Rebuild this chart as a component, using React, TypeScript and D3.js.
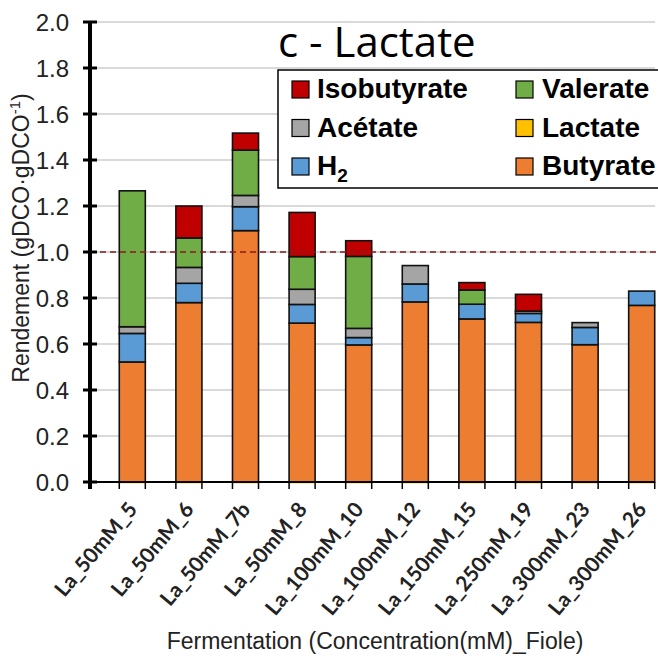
import React from "react";
import * as d3 from "d3";

const categories = ["La_50mM_5", "La_50mM_6", "La_50mM_7b", "La_50mM_8", "La_100mM_10", "La_100mM_12", "La_150mM_15", "La_250mM_19", "La_300mM_23", "La_300mM_26"];
const butyrate = [0.522, 0.78, 1.093, 0.691, 0.596, 0.783, 0.709, 0.694, 0.597, 0.768];
const h2 = [0.124, 0.084, 0.104, 0.081, 0.032, 0.078, 0.064, 0.039, 0.075, 0.062];
const acetate = [0.029, 0.069, 0.049, 0.066, 0.04, 0.08, 0.0, 0.01, 0.021, 0.0];
const valerate = [0.591, 0.128, 0.197, 0.142, 0.313, 0.0, 0.062, 0.0, 0.0, 0.0];
const isobutyrate = [0.0, 0.139, 0.074, 0.192, 0.068, 0.0, 0.032, 0.073, 0.0, 0.0];
const lactate = [-0.006, -0.006, -0.006, -0.006, -0.006, -0.006, -0.006, -0.006, -0.006, -0.006];
const yTicks = [0, 0.2, 0.4, 0.6, 0.8, 1.0, 1.2, 1.4, 1.6, 1.8, 2.0];
const refLine = 1.0;

const seriesKeys = ["Butyrate", "H2", "Acetate", "Valerate", "Isobutyrate", "Lactate"];
const colors: Record<string, string> = {
  Butyrate: "#ED7D31",
  H2: "#5B9BD5",
  Acetate: "#A5A5A5",
  Valerate: "#70AD47",
  Isobutyrate: "#C00000",
  Lactate: "#FFC000",
};

const legendItems = [
  { key: "Isobutyrate", label: "Isobutyrate", col: 0, row: 0 },
  { key: "Acetate", label: "Acétate", col: 0, row: 1 },
  { key: "H2", label: "H", sub: "2", col: 0, row: 2 },
  { key: "Valerate", label: "Valerate", col: 1, row: 0 },
  { key: "Lactate", label: "Lactate", col: 1, row: 1 },
  { key: "Butyrate", label: "Butyrate", col: 1, row: 2 },
];

export default function App() {
  const W = 658, H = 668;
  const plotL = 90, plotR = 655, plotT = 22, plotB = 482;
  const table = categories.map((c, i) => ({
    cat: c,
    Butyrate: butyrate[i],
    H2: h2[i],
    Acetate: acetate[i],
    Valerate: valerate[i],
    Isobutyrate: isobutyrate[i],
    Lactate: lactate[i],
  }));
  const stack = d3.stack<any>().keys(seriesKeys).offset(d3.stackOffsetDiverging);
  const stacked = stack(table);

  const x = d3.scaleBand<string>().domain(categories).range([104, 670]).paddingInner(0.54).paddingOuter(0.27);
  const y = d3.scaleLinear().domain([0, 2]).range([plotB, plotT]);
  const font = "'Liberation Sans', Arial, sans-serif";

  return (
    <svg width={W} height={H} style={{ position: "absolute", left: 0, top: 0, background: "#fff" }}>
      <rect x={0} y={0} width={W} height={H} fill="#fff" />
      {yTicks.map((t) => (
        <line key={"g" + t} x1={plotL} x2={plotR} y1={y(t)} y2={y(t)} stroke="#d9d9d9" strokeWidth={2} />
      ))}
      {stacked.map((s) => (
        <g key={s.key}>
          {s.map((d, i) => {
            const v = d[1] - d[0];
            if (Math.abs(v) < 1e-9) return null;
            const x0 = x(categories[i])!;
            const top = y(Math.max(d[0], d[1]));
            const bot = y(Math.min(d[0], d[1]));
            if (s.key === "Lactate") {
              return <rect key={i} x={x0} y={top} width={x.bandwidth()} height={bot - top} fill={colors[s.key]} />;
            }
            return (
              <rect key={i} x={x0} y={top} width={x.bandwidth()} height={bot - top} fill={colors[s.key]} stroke="#111" strokeWidth={1.6} />
            );
          })}
        </g>
      ))}
      <line x1={plotL} x2={W} y1={y(refLine)} y2={y(refLine)} stroke="#8B1A1A" strokeWidth={1.6} strokeDasharray="6,4" />
      <line x1={plotL} x2={plotR} y1={plotB} y2={plotB} stroke="#000" strokeWidth={2} />
      {categories.map((c) => (
        <g key={"xt" + c}>
          <line x1={x(c)!} x2={x(c)!} y1={plotB} y2={plotB + 7} stroke="#000" strokeWidth={1.5} />
          <line x1={x(c)! + x.bandwidth()} x2={x(c)! + x.bandwidth()} y1={plotB} y2={plotB + 7} stroke="#000" strokeWidth={1.5} />
        </g>
      ))}
      <line x1={plotL} x2={plotL} y1={plotT} y2={plotB + 7} stroke="#000" strokeWidth={4} />
      {yTicks.map((t) => (
        <g key={"yt" + t}>
          <line x1={plotL - 7} x2={plotL + 7} y1={y(t)} y2={y(t)} stroke="#000" strokeWidth={3} />
          <text x={69} y={y(t)} textAnchor="end" dominantBaseline="central" fontFamily={font} fontSize={24} fill="#222">
            {t.toFixed(1)}
          </text>
        </g>
      ))}
      {categories.map((c) => {
        const cx = x(c)! + x.bandwidth() / 2 + 6;
        const cy = plotB + 28;
        return (
          <text key={"xl" + c} x={cx} y={cy} transform={`rotate(-50,${cx},${cy})`} textAnchor="end" fontFamily="Lato, 'Open Sans', sans-serif" fontWeight="bold" fontSize={21} fill="#222">
            {c}
          </text>
        );
      })}
      <text x={375} y={649} textAnchor="middle" fontFamily={font} fontSize={23} fill="#222">
        Fermentation (Concentration(mM)_Fiole)
      </text>
      <text transform={`translate(29,238) rotate(-90)`} textAnchor="middle" fontFamily={font} fontSize={23} fill="#222">
        Rendement (gDCO·gDCO<tspan fontSize={15} dy={-9}>-1</tspan><tspan dy={9}>)</tspan>
      </text>
      <text x={278} y={57} fontFamily="'Open Sans', sans-serif" fontSize={42} fill="#000">
        c - Lactate
      </text>
      <rect x={278} y={70} width={420} height={118} fill="#fff" stroke="#000" strokeWidth={1.5} />
      {legendItems.map((it) => {
        const bx = it.col === 0 ? 292 : 516;
        const tx = it.col === 0 ? 317 : 542;
        const by = 98 + it.row * 38.5;
        return (
          <g key={"lg" + it.key}>
            <rect x={bx} y={by - 17} width={17} height={17} fill={colors[it.key]} stroke="#000" strokeWidth={1.2} />
            <text x={tx} y={by} fontFamily={font} fontWeight="bold" fontSize={28} fill="#000">
              {it.label}
              {it.sub ? <tspan fontSize={19} dy={7}>{it.sub}</tspan> : null}
            </text>
          </g>
        );
      })}
    </svg>
  );
}
